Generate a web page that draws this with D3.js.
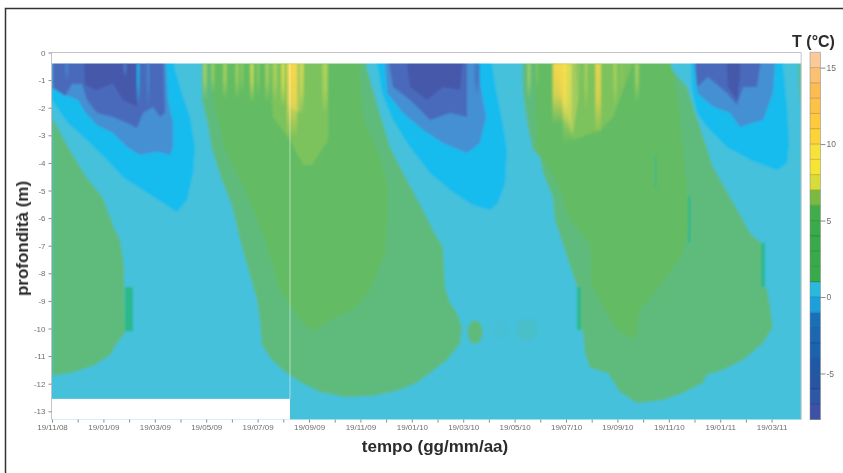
<!DOCTYPE html>
<html><head><meta charset="utf-8">
<script src="https://cdn.jsdelivr.net/npm/d3@7"></script>
<style>html,body{margin:0;padding:0;background:#fff}svg{display:block}text{font-family:"Liberation Sans",Arial,sans-serif}</style>
</head><body><svg id="c" width="843" height="473"></svg>
<script>
// ---- axis content ----
const dateLabels=["19/11/08","19/01/09","19/03/09","19/05/09","19/07/09","19/09/09","19/11/09","19/01/10","19/03/10","19/05/10","19/07/10","19/09/10","19/11/10","19/01/11","19/03/11"];
const depthTicks=[0,-1,-2,-3,-4,-5,-6,-7,-8,-9,-10,-11,-12,-13];
const tempTicks=[15,10,5,0,-5];
// ---- temperature classes ----
const classBreaks=[-5,-3.5,-2,-1,0,1,3,6,7,8,9,12];
const classColors=["#4558aa","#4a6abb","#4490d3","#16bcee","#45c1dc","#5fbb7c","#64bc63","#7cc25d","#a5cc5f","#c9da5a","#f5e34e","#fbd84a","#fbc46a"];
// colour bar bands, -8 up to +16
const barBands=[-8,-7,-6,-5,-4,-3,-2,-1,0,1,2,3,4,5,6,7,8,9,10,11,12,13,14,15];
const barColors=["#3d52a4","#2f57a8","#26569f","#2058a8","#1d62ae","#1c68b0","#1a70b8","#1ca0dc","#2ab8dc","#39aa4a","#39aa4a","#39aa4a","#3aab4a","#3fae4a","#7aba42","#d7dc3b","#f5e436","#f8e23a","#fdd33a","#fdc93f","#fcc246","#fbbd52","#fbc072","#fcc99b"];
// ---- isotherm outlines: [months since 19/11/08, depth in m] ----
const greenA=[[0,-2.34],[.47,-3.17],[1.28,-4.44],[1.98,-5.27],[2.45,-6.43],[2.65,-6.79],[2.8,-7.7],[2.84,-10.16],[2.53,-10.53],[2.26,-10.96],[1.67,-11.32],[.89,-11.58],[0,-11.72]];
const greenB=[[5.84,-.4],[5.84,-1.72],[6.07,-2.63],[6.23,-3.53],[6.61,-4.62],[7,-5.53],[7.32,-6.79],[7.59,-7.7],[7.98,-8.97],[8.09,-9.69],[8.17,-10.6],[8.56,-11.14],[9.07,-11.58],[9.65,-11.94],[10.43,-12.3],[11.4,-12.48],[12.49,-12.45],[13.54,-12.23],[14.2,-11.97],[14.71,-11.61],[15.37,-11.14],[15.88,-10.53],[15.95,-9.95],[15.76,-9.44],[15.49,-9.08],[15.29,-8.5],[15.21,-7.05],[14.82,-6.43],[14.44,-5.71],[13.66,-4.37],[13.15,-3.42],[12.68,-1.97],[12.26,-.63],[12.1,-.4]];
const innerB=[[6.03,-.4],[6.34,-1.9],[6.73,-3.53],[7.51,-4.98],[8.29,-6.79],[8.87,-8.6],[9.65,-9.69],[10.16,-10.13],[10.82,-9.69],[11.71,-9.33],[12.37,-8.6],[12.96,-7.26],[13.07,-5.71],[13.04,-4.73],[12.65,-3.53],[12.1,-2.34],[11.87,-.4]];
const greenE=[[18.29,-.4],[18.33,-1.47],[18.52,-2.7],[18.72,-3.53],[18.99,-3.79],[19.11,-4.37],[19.49,-5.24],[19.57,-6.07],[19.96,-7.16],[20.43,-8.5],[20.47,-10.05],[20.66,-10.05],[20.74,-10.89],[20.93,-11.43],[21.63,-11.61],[22.1,-12.3],[22.76,-12.7],[23.77,-12.59],[24.55,-12.34],[25.33,-11.97],[25.49,-11.68],[26.11,-11.5],[26.89,-11.14],[27.67,-10.53],[28.05,-9.95],[27.94,-9.22],[27.82,-8.53],[27.63,-8.5],[27.59,-6.9],[27.16,-6.54],[26.89,-6.07],[25.72,-4.15],[25.21,-2.7],[24.71,-1.25],[24.05,-.53],[23.93,-.4]];
const innerF=[[18.72,-.4],[18.87,-3.53],[19.65,-4.73],[20.16,-6.07],[20.93,-6.9],[21.01,-8.5],[21.98,-10.05],[22.68,-10.42],[22.88,-9.33],[23.77,-8.35],[24.55,-7.26],[24.82,-6.07],[24.55,-3.53],[24.32,-1.47],[23.85,-.4]];
const edgeGreen=[[29.03,-.4],[29.07,-1.36],[29.15,-2.08],[29.15,-.4]];
const warmB=[[8.37,-.4],[8.6,-2.34],[9.26,-3.17],[9.77,-4.08],[10.12,-4.08],[10.74,-3.17],[10.74,-.4]];
const warmB2=[[9.14,-.4],[9.26,-1.97],[9.65,-2.19],[9.84,-.4]];
const warmF=[[19.38,-.4],[19.88,-2.34],[20.27,-3.17],[21.32,-2.81],[21.83,-2.34],[23,-.4]];
const warmF2=[[19.46,-.4],[19.84,-1.72],[20.27,-2.99],[20.47,-1.72],[20.35,-.4]];
const cold1Bright=[[0,-.4],[0,-1.72],[.62,-2.55],[1.36,-3.17],[2.14,-3.89],[2.76,-4.51],[3.54,-4.98],[4.32,-5.45],[4.86,-5.78],[5.25,-5.34],[5.49,-4.37],[5.56,-3.42],[5.37,-2.34],[5.1,-1.61],[4.79,-.63],[4.51,-.4]];
const cold1Mid=[[0,-.4],[0,-1.29],[.51,-1.54],[1.01,-1.72],[1.28,-2.16],[1.75,-2.63],[2.37,-2.92],[2.92,-3.42],[3.42,-3.71],[4.09,-3.6],[4.59,-3.71],[4.71,-3.42],[4.71,-2.55],[4.51,-1.72],[4.4,-.4]];
const cold1Dark=[[.04,-.4],[.04,-1.29],[.51,-1.58],[.78,-1.14],[1.17,-1.14],[1.36,-1.72],[1.75,-2.19],[2.37,-2.34],[2.92,-2.55],[3.31,-2.74],[3.54,-2.19],[3.93,-1.97],[4.2,-2.34],[4.4,-2.19],[4.32,-.4]];
const cold1Darkest=[[1.21,-.4],[1.28,-1.18],[1.75,-1.36],[2.37,-1.11],[2.76,-1.72],[3.31,-1.97],[3.35,-.4]];
const cold2Bright=[[12.49,-.4],[12.84,-1.47],[13.27,-2.45],[13.93,-3.42],[14.71,-4.37],[15.49,-4.98],[16.38,-5.53],[17.04,-5.71],[17.35,-5.45],[17.63,-4.73],[17.7,-3.53],[17.51,-2.45],[17.24,-1.18],[16.96,-.4]];
const cold2Mid=[[12.88,-.4],[13.04,-1.47],[13.66,-2.19],[14.44,-2.81],[15.21,-3.28],[16.15,-3.64],[16.65,-3.28],[16.89,-2.34],[16.65,-1.11],[16.26,-.4]];
const cold2Dark=[[12.92,-.4],[13.27,-1.25],[13.93,-1.72],[14.71,-2.45],[15.49,-2.19],[16.15,-2.34],[16.15,-.4]];
const cold2Darkest=[[13.66,-.4],[13.93,-1.25],[14.59,-1.72],[15.21,-1.25],[15.88,-1.36],[16.07,-.4]];
const cold3Bright=[[24.82,-.4],[24.9,-1.36],[25.1,-2.19],[25.49,-2.7],[26.26,-3.42],[27.16,-3.89],[28.21,-4.26],[28.6,-4],[28.68,-3.28],[28.6,-1.97],[28.33,-.4]];
const cold3Mid=[[24.9,-.4],[25.1,-1.47],[25.72,-1.97],[26.38,-2.19],[26.77,-2.7],[27.67,-2.45],[28.05,-1.47],[28.21,-.4]];
const cold3Dark=[[24.94,-.4],[25.1,-1.25],[25.53,-.89],[26.26,-1.47],[26.65,-1.9],[26.89,-1.25],[27.43,-1.25],[27.74,-.4]];
const cold3Darkest=[[26.19,-.4],[26.3,-1.25],[26.65,-1.72],[26.77,-.89],[26.81,-.4]];
const layerOutlines=[greenA,greenB,greenE,edgeGreen,innerB,innerF,warmB,warmF,warmB2,warmF2,cold1Bright,cold2Bright,cold3Bright,cold1Mid,cold2Mid,cold3Mid,cold1Dark,cold2Dark,cold3Dark,cold1Darkest,cold2Darkest,cold3Darkest];
const layerTemps=[.5,.5,.5,.5,2,2,5.5,5.5,6.5,6.5,-1.5,-1.5,-1.5,-3,-3,-3,-4,-4,-4,-6,-6,-6];
// ---- surface streaks of daily values ----
const streakMonth=[5.95,6.26,6.73,7.2,7.39,7.78,8.02,8.37,8.68,8.99,9.34,9.73,10.62,18.56,18.87,19.75,20.05,20.47,20.78,21.25,21.91,22.18,22.76,.58,2.84,3.35,3.74,16.54];
const streakWidth=[.16,.14,.16,.14,.1,.16,.1,.16,.16,.16,.4,.14,.2,.14,.1,.55,.35,.12,.12,.24,.14,.1,.16,.1,.1,.12,.1,.2];
const streakTemp=[7,7,7,7,7,8,7,7.5,7.5,8,9.5,8,7.5,7,6.5,9.5,8,6,7,9,7,6.5,7,-3,-3,-1.5,-3,-4];
const streakBottom=[-1.7,-1.5,-1.7,-1.7,-1.5,-1.8,-1.6,-1.8,-1.8,-2,-3.1,-2.3,-2.3,-1.7,-1.3,-2.6,-3.3,-2,-2.1,-3,-2,-1.5,-1.8,-1,-.9,-1.9,-2,-1.6];
const streakStrength=[.6,.5,.6,.55,.45,.65,.45,.6,.6,.7,.95,.6,.65,.55,.4,.95,.7,.5,.55,.8,.55,.4,.6,.8,.8,.9,.8,.8];
// ---- isolated logger anomalies ----
const patchMonth=[2.84,20.43,27.59,24.75,23.46];
const patchWidth=[.31,.15,.15,.1,.05];
const patchTop=[-8.5,-8.5,-6.9,-5.2,-3.7];
const patchBottom=[-10.1,-10.05,-8.5,-6.9,-4.9];
const blobMonth=[16.46,18.48,17.5];
const blobDepth=[-10.13,-10.05,-10.05];
const blobHalfMonths=[.3,.42,.3];
const blobHalfDepth=[.42,.42,.3];
const blobShow=[1,.2,.07];
// ---- extent ----
const monthEnd=29.15, surfaceDepth=-.4, floorDepth=-13.3, gapEndMonth=9.26, gapTopDepth=-12.55, tempMin=-8, tempMax=16;

const svg=d3.select("#c");
const x=d3.scaleLinear().domain([0,28]).range([52,771.6]);
const y=d3.scaleLinear().domain([0,-13]).range([52.5,411.3]);
const tY=d3.scaleLinear().domain([0,15]).range([297,67.6]);
const cls=d3.scaleThreshold().domain(classBreaks).range(classColors);
const defs=svg.append("defs");
const blur=defs.append("filter").attr("id","soft").attr("x","-2%").attr("y","-2%").attr("width","104%").attr("height","104%");
blur.append("feGaussianBlur").attr("stdDeviation",.8);
const blurS=defs.append("filter").attr("id","softS").attr("x","-50%").attr("y","-5%").attr("width","200%").attr("height","110%");
blurS.append("feGaussianBlur").attr("stdDeviation",1.2);
const blurT=defs.append("filter").attr("id","softT").attr("x","-5%").attr("y","-5%").attr("width","110%").attr("height","110%");
blurT.append("feGaussianBlur").attr("stdDeviation",.35);
defs.append("clipPath").attr("id","plotClip").append("rect")
 .attr("x",x(0)).attr("y",y(surfaceDepth)).attr("width",x(monthEnd)-x(0)).attr("height",y(floorDepth)-y(surfaceDepth));

// frame
svg.append("path").attr("d","M5.5 473V8.5H843").attr("fill","none").attr("stroke","#333").attr("stroke-width",1.5);

const plotClip=svg.append("g").attr("clip-path","url(#plotClip)");
const plot=plotClip.append("g").attr("filter","url(#soft)");
plot.append("rect").attr("x",x(-1)).attr("y",y(0)).attr("width",x(monthEnd+1)-x(-1)).attr("height",y(floorDepth-1)-y(0)).attr("fill",cls(-.5));
const line=d3.line().x(d=>x(d[0])).y(d=>y(d[1]));
const aboveSurface=surfaceDepth+1;
plot.selectAll("path.iso").data(layerOutlines).join("path").attr("class","iso")
 .attr("d",d=>{const top=d.map(p=>[p[0],p[1]===surfaceDepth?aboveSurface:p[1]]);return line(top)+"Z"})
 .attr("fill",(d,i)=>cls(layerTemps[i]));
// patches
plot.selectAll("rect.p").data(patchMonth).join("rect").attr("class","p")
 .attr("x",d=>x(d)).attr("width",(d,i)=>x(d+patchWidth[i])-x(d))
 .attr("y",(d,i)=>y(patchTop[i])).attr("height",(d,i)=>y(patchBottom[i])-y(patchTop[i]))
 .attr("fill","#2cb98c");
// blobs
plot.selectAll("ellipse").data(blobMonth).join("ellipse")
 .attr("cx",d=>x(d)).attr("cy",(d,i)=>y(blobDepth[i]))
 .attr("rx",(d,i)=>x(blobHalfMonths[i])-x(0)).attr("ry",(d,i)=>y(-blobHalfDepth[i])-y(0))
 .attr("fill",cls(.5)).attr("opacity",(d,i)=>blobShow[i]);
// streaks with fading gradient
const grads=defs.selectAll("linearGradient").data(streakMonth).join("linearGradient")
 .attr("id",(d,i)=>"st"+i).attr("x1",0).attr("x2",0).attr("y1",0).attr("y2",1);
grads.append("stop").attr("offset","0%").attr("stop-color",(d,i)=>cls(streakTemp[i])).attr("stop-opacity",(d,i)=>streakStrength[i]);
grads.append("stop").attr("offset","50%").attr("stop-color",(d,i)=>cls(streakTemp[i])).attr("stop-opacity",(d,i)=>streakStrength[i]*.8);
grads.append("stop").attr("offset","100%").attr("stop-color",(d,i)=>cls(streakTemp[i])).attr("stop-opacity",0);
plotClip.append("g").attr("filter","url(#softS)").selectAll("rect.s").data(streakMonth).join("rect").attr("class","s")
 .attr("x",(d,i)=>x(d-streakWidth[i]/2)).attr("width",(d,i)=>x(streakWidth[i])-x(0))
 .attr("y",y(surfaceDepth)).attr("height",(d,i)=>y(streakBottom[i])-y(surfaceDepth))
 .attr("fill",(d,i)=>`url(#st${i})`);

// data gap and seam
plotClip.append("rect").attr("x",x(-1)).attr("width",x(gapEndMonth)-x(-1)).attr("y",y(gapTopDepth)).attr("height",y(floorDepth-1)-y(gapTopDepth)).attr("fill","#fff");
plotClip.append("line").attr("x1",x(gapEndMonth)).attr("x2",x(gapEndMonth)).attr("y1",y(surfaceDepth)).attr("y2",y(gapTopDepth))
 .attr("stroke","#fff").attr("stroke-opacity",.5).attr("stroke-width",1);

// plot border
svg.append("path").attr("d",`M${x(0)-.5} ${y(floorDepth)}V${y(0)}H${x(monthEnd)}V${y(floorDepth)}`).attr("fill","none").attr("stroke","#c4c4c8").attr("stroke-width",1);

// axes
const gAx=svg.append("g").attr("filter","url(#softT)");
const plain=d=>String(d);
const yAxis=d3.axisLeft(y).tickValues(depthTicks).tickSize(3).tickFormat(plain);
const yG=gAx.append("g").attr("transform",`translate(${x(0)-.5},0)`).call(yAxis);
const months=d3.range(0,29);
const xAxis=d3.axisBottom(x).tickValues(months).tickSize(3).tickPadding(2).tickFormat(d=>d%2?"":dateLabels[d/2]||"");
const xG=gAx.append("g").attr("transform",`translate(0,${y(floorDepth)})`).call(xAxis);
const tAxis=d3.axisRight(tY).tickValues(tempTicks).tickSize(5).tickPadding(1).tickFormat(plain);
const barG=svg.append("g");
barG.selectAll("rect").data(barBands).join("rect")
 .attr("x",810).attr("width",10.5).attr("y",d=>tY(d+1)).attr("height",d=>tY(d)-tY(d+1)+.3).attr("fill",(d,i)=>barColors[i]);
barG.selectAll("line.b").data(barBands).join("line").attr("class","b")
 .attr("x1",810).attr("x2",820.5).attr("y1",d=>tY(d)).attr("y2",d=>tY(d)).attr("stroke","#000").attr("stroke-opacity",.18);
barG.append("rect").attr("x",810).attr("width",10.5).attr("y",tY(tempMax)).attr("height",tY(tempMin)-tY(tempMax)).attr("fill","none").attr("stroke","#888").attr("stroke-opacity",.5);
const tG=gAx.append("g").attr("transform","translate(820.5,0)").call(tAxis);
for(const g of [yG,xG,tG]){g.select(".domain").remove();g.selectAll("text").attr("font-size",8).attr("fill","#6e6e6e");g.selectAll("line").attr("stroke","#8a8a8a");}
tG.selectAll("text").attr("font-size",8.5);

// titles
svg.append("text").attr("x",813.5).attr("y",47).attr("text-anchor","middle").attr("font-size",16).attr("font-weight","bold").attr("fill","#2b2b2b").text("T (°C)");
svg.append("text").attr("x",435).attr("y",452).attr("text-anchor","middle").attr("font-size",17).attr("font-weight","bold").attr("fill","#2b2b2b").text("tempo (gg/mm/aa)");
svg.append("text").attr("transform","translate(28,238.5) rotate(-90)").attr("text-anchor","middle").attr("font-size",17).attr("font-weight","bold").attr("fill","#2b2b2b").text("profondità (m)");
</script></body></html>
